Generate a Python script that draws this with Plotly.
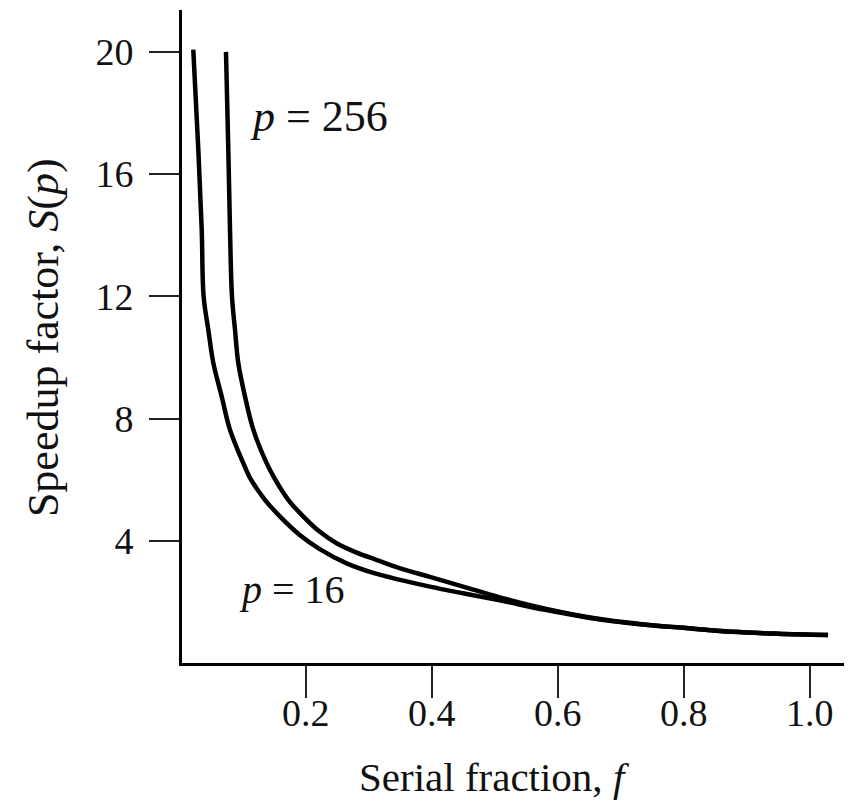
import plotly.graph_objects as go

# Serial fraction f and speedup S(p)
f_p16 = [0.0216, 0.0296, 0.0350, 0.0380, 0.0454, 0.0534, 0.0667, 0.0799, 0.101, 0.1116, 0.135, 0.159, 0.190, 0.223, 0.265, 0.310, 0.350, 0.397, 0.450, 0.508, 0.580, 0.667, 0.730, 0.799, 0.878, 0.950, 1.029]
s_p16 = [20.07, 16.8, 14.18, 12.0, 10.91, 9.82, 8.72, 7.63, 6.54, 6.06, 5.35, 4.8, 4.2, 3.72, 3.26, 2.93, 2.72, 2.50, 2.28, 2.05, 1.74, 1.42, 1.27, 1.15, 1.02, 0.96, 0.92]

f_p256 = [0.0735, 0.0772, 0.0799, 0.0830, 0.0878, 0.0930, 0.1037, 0.117, 0.138, 0.1517, 0.172, 0.196, 0.222, 0.249, 0.280, 0.313, 0.350, 0.397, 0.450, 0.508, 0.580, 0.667, 0.730, 0.799, 0.878, 0.950, 1.029]
s_p256 = [20.0, 16.8, 14.18, 12.0, 10.91, 9.82, 8.72, 7.63, 6.54, 6.0, 5.35, 4.8, 4.3, 3.92, 3.62, 3.37, 3.10, 2.82, 2.50, 2.15, 1.78, 1.44, 1.28, 1.15, 1.02, 0.96, 0.92]

x_ticks = [0.2, 0.4, 0.6, 0.8, 1.0]
x_tick_labels = ["0.2", "0.4", "0.6", "0.8", "1.0"]
y_ticks = [4, 8, 12, 16, 20]
y_tick_labels = ["4", "8", "12", "16", "20"]

label_256 = "<i>p</i> = 256"
label_16 = "<i>p</i> = 16"
x_title = "Serial fraction, <i>f</i>"
y_title = "Speedup factor, <i>S</i>(<i>p</i>)"

SERIF = "Liberation Serif"
INK = "#111111"

fig = go.Figure()
for fx, sy in [(f_p16, s_p16), (f_p256, s_p256)]:
    fig.add_trace(go.Scatter(x=fx, y=sy, mode="lines",
                             line=dict(color="black", width=4.5, shape="spline", smoothing=1.0),
                             showlegend=False, hoverinfo="skip"))

fig.add_annotation(x=0.221, y=17.9, text=label_256, showarrow=False,
                   font=dict(family=SERIF, size=44, color=INK), xanchor="center", yanchor="middle")
fig.add_annotation(x=0.179, y=2.42, text=label_16, showarrow=False,
                   font=dict(family=SERIF, size=40, color=INK), xanchor="center", yanchor="middle")

# axis titles
fig.add_annotation(x=0.467, xref="paper", y=-0.175, yref="paper", text=x_title, showarrow=False,
                   font=dict(family=SERIF, size=41, color=INK), xanchor="center", yanchor="middle")
fig.add_annotation(x=-0.207, xref="paper", y=0.498, yref="paper", text=y_title, showarrow=False,
                   textangle=-90,
                   font=dict(family=SERIF, size=44, color=INK), xanchor="center", yanchor="middle")

# the page body adds an 8px margin, so the figure is 8px smaller on each side
fig.update_layout(
    width=844, height=795,
    margin=dict(l=174, r=0, t=2, b=140),
    paper_bgcolor="white", plot_bgcolor="white",
    font=dict(family=SERIF, color=INK),
    xaxis=dict(range=[0.0037, 1.067], tickvals=x_ticks, ticktext=x_tick_labels,
               ticks="outside", ticklen=32, tickwidth=1.5, tickcolor="#222",
               showline=True, linecolor="black", linewidth=3, showgrid=False, zeroline=False,
               tickfont=dict(family=SERIF, size=38, color=INK), ticklabelstandoff=-18),
    yaxis=dict(range=[0, 21.37], tickvals=y_ticks, ticktext=y_tick_labels,
               ticks="outside", ticklen=30, tickwidth=1.5, tickcolor="#222",
               showline=True, linecolor="black", linewidth=3, showgrid=False, zeroline=False,
               tickfont=dict(family=SERIF, size=38, color=INK), ticklabelstandoff=8),
)

fig.write_html("out.html")
